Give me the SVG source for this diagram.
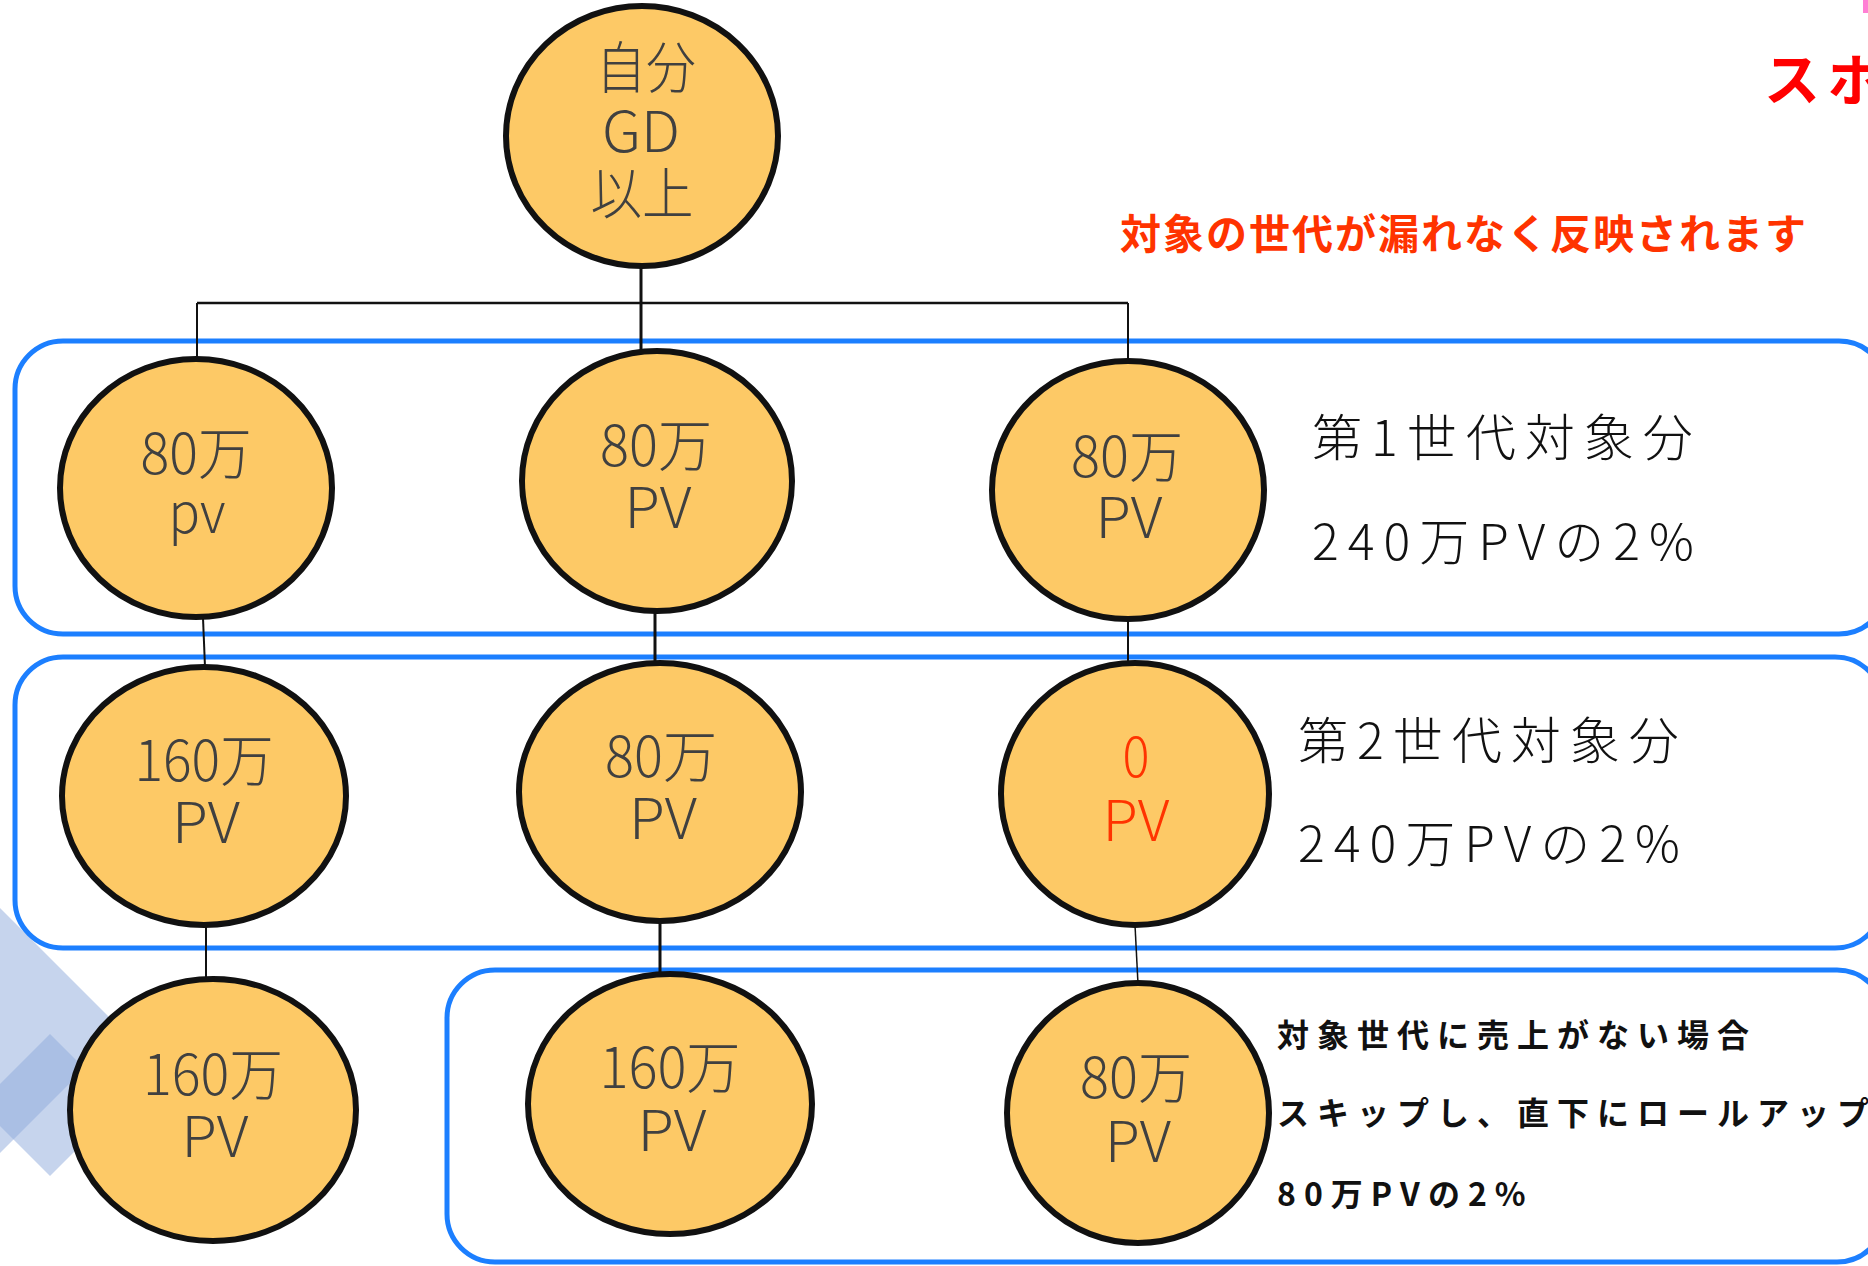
<svg xmlns="http://www.w3.org/2000/svg" width="1868" height="1266" viewBox="0 0 1868 1266">
<style>
.node ellipse{fill:#fdc966;stroke:#111;stroke-width:6}
.nt{font-family:"Noto Sans CJK JP","Noto Sans",sans-serif;font-size:56px;fill:#404040;text-anchor:middle;font-weight:300}
.red{fill:#ff3300}
.band{fill:none;stroke:#1c7fff;stroke-width:5}
.lbl{font-family:"Noto Sans CJK JP","Noto Sans",sans-serif;font-size:50px;fill:#111;font-weight:300;letter-spacing:9px}
.note{font-family:"Noto Sans CJK JP","Noto Sans",sans-serif;font-size:32px;fill:#111;font-weight:bold;letter-spacing:8px}
.conn path{fill:none;stroke:#111}
</style>
<rect width="1868" height="1266" fill="#fff"/>
<g id="decor" fill="#8ea9db" fill-opacity="0.5">
<polygon points="-150,758 122.5,1030.5 -150,1303 -422.5,1030.5"/>
<polygon points="50,1034 121,1105 50,1176 -21,1105"/>
</g>
<rect x="1863" y="0" width="8" height="13" fill="#ff7fd4"/>
<g id="bands">
<rect id="band1" class="band" x="15" y="341" width="1872" height="293" rx="48"/>
<rect id="band2" class="band" x="15" y="657" width="1868" height="291" rx="48"/>
<rect id="band3" class="band" x="447" y="970" width="1438" height="292" rx="48"/>
</g>
<g id="connectors" class="conn">
<path d="M641,267V351" stroke-width="3"/>
<path d="M197,303H1128" stroke-width="2.5"/>
<path d="M197,303V360" stroke-width="2"/>
<path d="M1128,303V361" stroke-width="2"/>
<path d="M203,618L205,667" stroke-width="2"/>
<path d="M655,611V662" stroke-width="3"/>
<path d="M1128,619V665" stroke-width="2"/>
<path d="M206,925V979" stroke-width="2"/>
<path d="M660,921V974" stroke-width="3"/>
<path d="M1135,925L1138,984" stroke-width="1.5"/>
</g>
<g id="n0" class="node"><ellipse cx="642" cy="136" rx="136" ry="130"/>
<text class="nt" x="646" y="88" textLength="100" lengthAdjust="spacingAndGlyphs">自分</text>
<text class="nt" x="641" y="152" textLength="78" lengthAdjust="spacingAndGlyphs">GD</text>
<text class="nt" x="642" y="214" textLength="103" lengthAdjust="spacingAndGlyphs">以上</text></g>
<g id="n1a" class="node"><ellipse cx="196" cy="488" rx="136" ry="129"/>
<text class="nt" x="196" y="474" textLength="111" lengthAdjust="spacingAndGlyphs">80万</text>
<text class="nt" x="197" y="533" textLength="57" lengthAdjust="spacingAndGlyphs">pv</text></g>
<g id="n1b" class="node"><ellipse cx="657" cy="481" rx="135" ry="130"/>
<text class="nt" x="656" y="466" textLength="112" lengthAdjust="spacingAndGlyphs">80万</text>
<text class="nt" x="658" y="528" textLength="67" lengthAdjust="spacingAndGlyphs">PV</text></g>
<g id="n1c" class="node"><ellipse cx="1128" cy="490" rx="136" ry="129"/>
<text class="nt" x="1127" y="477" textLength="112" lengthAdjust="spacingAndGlyphs">80万</text>
<text class="nt" x="1129" y="538" textLength="67" lengthAdjust="spacingAndGlyphs">PV</text></g>
<g id="n2a" class="node"><ellipse cx="204" cy="796" rx="142" ry="129"/>
<text class="nt" x="204" y="781" textLength="139" lengthAdjust="spacingAndGlyphs">160万</text>
<text class="nt" x="206" y="843" textLength="68" lengthAdjust="spacingAndGlyphs">PV</text></g>
<g id="n2b" class="node"><ellipse cx="660" cy="792" rx="141" ry="129"/>
<text class="nt" x="661" y="777" textLength="112" lengthAdjust="spacingAndGlyphs">80万</text>
<text class="nt" x="663" y="839" textLength="68" lengthAdjust="spacingAndGlyphs">PV</text></g>
<g id="n2c" class="node"><ellipse cx="1135" cy="794" rx="134" ry="131"/>
<text class="nt red" x="1136" y="777" textLength="27" lengthAdjust="spacingAndGlyphs">0</text>
<text class="nt red" x="1136" y="841" textLength="67" lengthAdjust="spacingAndGlyphs">PV</text></g>
<g id="n3a" class="node"><ellipse cx="213" cy="1110" rx="143" ry="131"/>
<text class="nt" x="213" y="1095" textLength="140" lengthAdjust="spacingAndGlyphs">160万</text>
<text class="nt" x="215" y="1157" textLength="67" lengthAdjust="spacingAndGlyphs">PV</text></g>
<g id="n3b" class="node"><ellipse cx="670" cy="1104" rx="142" ry="130"/>
<text class="nt" x="670" y="1088" textLength="141" lengthAdjust="spacingAndGlyphs">160万</text>
<text class="nt" x="672" y="1151" textLength="69" lengthAdjust="spacingAndGlyphs">PV</text></g>
<g id="n3c" class="node"><ellipse cx="1138" cy="1113" rx="131" ry="130"/>
<text class="nt" x="1136" y="1098" textLength="112" lengthAdjust="spacingAndGlyphs">80万</text>
<text class="nt" x="1138" y="1162" textLength="66" lengthAdjust="spacingAndGlyphs">PV</text></g>
<g id="labels">
<text class="lbl" x="1312" y="456">第1世代対象分</text>
<text class="lbl" x="1312" y="560">240万PVの2%</text>
<text class="lbl" x="1298" y="759">第2世代対象分</text>
<text class="lbl" x="1298" y="862">240万PVの2%</text>
<text class="note" x="1277" y="1047">対象世代に売上がない場合</text>
<text class="note" x="1277" y="1125">スキップし、直下にロールアップ</text>
<text class="note" x="1277" y="1206">80万PVの2%</text>
<text x="1120" y="249" font-family="'Noto Sans CJK JP',sans-serif" font-size="41" font-weight="bold" fill="#ff3300" letter-spacing="2">対象の世代が漏れなく反映されます</text>
<text x="1764" y="100" font-family="'Noto Sans CJK JP',sans-serif" font-size="56" font-weight="bold" fill="#ff0000" letter-spacing="8">スポ</text>
</g>
</svg>
